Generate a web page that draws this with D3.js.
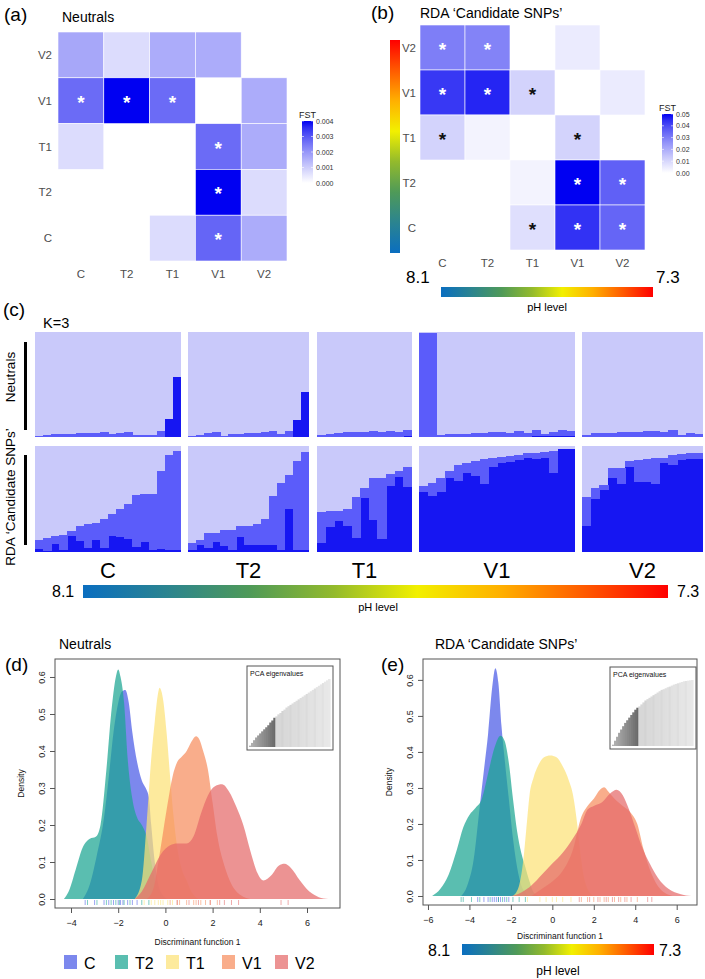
<!DOCTYPE html>
<html><head><meta charset="utf-8">
<script src="https://cdn.jsdelivr.net/npm/d3@7"></script>
<style>
body{margin:0;background:#fff;}
text{font-family:'Liberation Sans',Arial,Helvetica,sans-serif;}
.narrow{font-family:'Liberation Sans Narrow','Arial Narrow','Liberation Sans',sans-serif;}
</style>
</head><body>
<svg id="fig" width="705" height="979" xmlns="http://www.w3.org/2000/svg"></svg>
<script>
// ---------------- DATA ----------------
const pops = ["C","T2","T1","V1","V2"];
const heatCols = ["C","T2","T1","V1","V2"];
const heatRows = ["V2","V1","T1","T2","C"];
// pairwise FST (rows = heatRows, cols = heatCols)
const fstNeutral = [
  [0.0017, 0.0007, 0.0016, 0.0016, null],
  [0.0027, 0.0040, 0.0027, null,   0.0016],
  [0.0007, null,   null,   0.0027, 0.0016],
  [null,   null,   null,   0.0040, 0.0007],
  [null,   null,   0.0007, 0.0028, 0.0016]
];
const sigNeutral = [
  ["","","","",""],
  ["w","w","w","",""],
  ["","","","w",""],
  ["","","","w",""],
  ["","","","w",""]
];
const fstRDA = [
  [0.030, 0.029, null,  0.005, null],
  [0.043, 0.046, 0.011, null,  0.005],
  [0.011, 0.003, null,  0.011, null],
  [null,  null,  0.003, 0.050, 0.036],
  [null,  null,  0.008, 0.044, 0.035]
];
const sigRDA = [
  ["w","w","","",""],
  ["w","w","b","",""],
  ["b","","","b",""],
  ["","","","w","w"],
  ["","","b","w","w"]
];
const fstNeutralTicks = [0, 0.001, 0.002, 0.003, 0.004];
const fstRDATicks = [0, 0.01, 0.02, 0.03, 0.04, 0.05];

// STRUCTURE K=3 ancestry proportions (q1 = dark cluster, q2 = medium cluster)
const neutQ1 = [
  [0,0,0,0,0,0,0,0,0,0,0,0,0,0,0,0,0.17,0.57],
  [0,0,0,0,0,0,0,0,0,0,0,0,0,0.165,0.43],
  [0,0,0,0,0,0,0,0,0,0,0.008],
  [0,0,0,0,0,0,0,0,0,0,0,0,0,0.005,0.008,0.008,0.008,0.005],
  [0,0,0,0,0,0,0,0,0,0,0,0,0,0]
];
const neutQ2 = [
  [0.005,0.02,0.025,0.03,0.033,0.036,0.04,0.042,0.045,0.03,0.035,0.045,0.02,0.02,0.02,0.055,0,0],
  [0.005,0.02,0.04,0.05,0.01,0.025,0.03,0.035,0.04,0.045,0.055,0.03,0.055,0,0],
  [0.02,0.03,0.035,0.045,0.045,0.045,0.055,0.045,0.06,0.05,0.062],
  [0.995,0.995,0.02,0.025,0.03,0.03,0.035,0.04,0.05,0.05,0.035,0.06,0.04,0.06,0.022,0.037,0.057,0.05],
  [0.02,0.04,0.04,0.042,0.045,0.045,0.05,0.055,0.06,0.05,0.07,0.02,0.035,0.025]
];
const rdaQ1 = [
  [0.03,0.01,0.08,0.02,0.15,0.10,0.04,0.11,0.04,0.15,0.14,0.125,0.05,0.095,0.015,0.03,0.015,0.015],
  [0.015,0.07,0.04,0.09,0.055,0.02,0.14,0.07,0.07,0.065,0.065,0.02,0.41,0.02,0.015],
  [0.085,0.235,0.29,0.245,0.135,0.51,0.30,0.125,0.62,0.71,0.615],
  [0.57,0.53,0.57,0.70,0.67,0.75,0.715,0.645,0.805,0.835,0.85,0.865,0.89,0.88,0.885,0.75,0.97,0.97],
  [0.245,0.5,0.585,0.695,0.64,0.805,0.66,0.66,0.645,0.835,0.82,0.865,0.875,0.875]
];
const rdaQ2 = [
  [0.08,0.12,0.07,0.14,0.045,0.15,0.22,0.16,0.275,0.205,0.27,0.325,0.485,0.45,0.53,0.73,0.90,0.935],
  [0.07,0.045,0.14,0.09,0.155,0.19,0.11,0.18,0.19,0.245,0.46,0.63,0.315,0.84,0.925],
  [0.295,0.15,0.10,0.165,0.385,0.09,0.395,0.575,0.12,0.055,0.185],
  [0.05,0.125,0.13,0.065,0.15,0.09,0.145,0.23,0.08,0.065,0.06,0.05,0.04,0.055,0.06,0.20,0.005,0.005],
  [0.27,0.10,0.045,0.10,0.155,0.055,0.21,0.215,0.24,0.055,0.095,0.06,0.055,0.06]
];

// pH colour ramp (8.1 -> 7.3)
const phLabels = ["8.1","7.3"];
const phColors = ["#0a6ec0","#2b8490","#4f9a58","#93ba2c","#f2f000","#ffb000","#ff5a00","#ff0000"];

// Density curves, DAPC discriminant function 1: [x, density]
const dNeutC  = [[-3.5,0],[-3.2,0.04],[-2.9,0.12],[-2.6,0.22],[-2.4,0.33],[-2.2,0.45],[-2.0,0.53],[-1.85,0.56],[-1.7,0.565],[-1.55,0.53],[-1.4,0.45],[-1.2,0.37],[-1.0,0.32],[-0.8,0.295],[-0.7,0.275],[-0.6,0.2],[-0.45,0.1],[-0.3,0.04],[-0.1,0.01],[0.1,0]];
const dNeutT2 = [[-4.3,0],[-4.1,0.02],[-3.8,0.08],[-3.5,0.14],[-3.2,0.163],[-2.95,0.168],[-2.75,0.2],[-2.5,0.35],[-2.3,0.5],[-2.1,0.6],[-2.0,0.62],[-1.9,0.6],[-1.75,0.53],[-1.6,0.38],[-1.4,0.27],[-1.2,0.22],[-1.0,0.2],[-0.8,0.17],[-0.6,0.1],[-0.4,0.04],[-0.2,0.01],[0,0]];
const dNeutT1 = [[-1.3,0],[-1.0,0.05],[-0.8,0.2],[-0.6,0.38],[-0.45,0.48],[-0.3,0.56],[-0.25,0.571],[-0.1,0.54],[0.05,0.45],[0.2,0.33],[0.35,0.22],[0.5,0.14],[0.7,0.08],[0.9,0.05],[1.1,0.02],[1.4,0]];
const dNeutV1 = [[-0.8,0],[-0.5,0.03],[-0.3,0.1],[-0.1,0.18],[0.1,0.26],[0.3,0.33],[0.5,0.37],[0.7,0.385],[0.9,0.4],[1.1,0.425],[1.3,0.44],[1.45,0.43],[1.6,0.4],[1.8,0.35],[2.0,0.26],[2.2,0.17],[2.5,0.09],[2.8,0.04],[3.2,0.01],[3.6,0]];
const dNeutV2 = [[-1.3,0],[-1.0,0.02],[-0.6,0.07],[-0.2,0.12],[0.2,0.145],[0.5,0.15],[0.9,0.15],[1.2,0.17],[1.5,0.23],[1.8,0.28],[2.1,0.305],[2.4,0.31],[2.7,0.29],[3.0,0.25],[3.3,0.2],[3.6,0.13],[3.9,0.07],[4.15,0.05],[4.5,0.065],[4.8,0.09],[5.05,0.095],[5.3,0.085],[5.7,0.05],[6.1,0.02],[6.5,0.005],[6.9,0]];
const dRdaC  = [[-4.4,0],[-4.1,0.03],[-3.8,0.1],[-3.5,0.25],[-3.3,0.35],[-3.1,0.45],[-2.9,0.58],[-2.75,0.632],[-2.6,0.59],[-2.45,0.47],[-2.3,0.38],[-2.1,0.27],[-1.9,0.16],[-1.7,0.08],[-1.5,0.03],[-1.3,0.01],[-1.1,0]];
const dRdaT2 = [[-5.8,0],[-5.4,0.02],[-5.0,0.06],[-4.6,0.13],[-4.3,0.19],[-4.0,0.225],[-3.7,0.245],[-3.4,0.27],[-3.1,0.34],[-2.8,0.41],[-2.5,0.445],[-2.3,0.43],[-2.1,0.37],[-1.9,0.27],[-1.7,0.18],[-1.5,0.12],[-1.3,0.08],[-1.1,0.04],[-0.9,0.01],[-0.6,0]];
const dRdaT1 = [[-1.9,0],[-1.6,0.03],[-1.4,0.1],[-1.25,0.19],[-1.1,0.28],[-0.9,0.33],[-0.7,0.36],[-0.4,0.385],[-0.1,0.39],[0.2,0.385],[0.5,0.36],[0.8,0.32],[1.0,0.28],[1.2,0.2],[1.35,0.12],[1.5,0.06],[1.7,0.02],[2.0,0]];
const dRdaV1 = [[-1.0,0],[-0.5,0.02],[0,0.04],[0.5,0.07],[1.0,0.13],[1.4,0.22],[1.7,0.25],[2.0,0.27],[2.3,0.295],[2.5,0.302],[2.7,0.29],[3.0,0.27],[3.4,0.25],[3.8,0.23],[4.1,0.2],[4.4,0.13],[4.8,0.06],[5.2,0.02],[5.8,0]];
const dRdaV2 = [[-2.0,0],[-1.5,0.01],[-1.0,0.03],[-0.5,0.06],[0,0.09],[0.5,0.12],[1.0,0.16],[1.4,0.2],[1.7,0.24],[2.0,0.25],[2.4,0.26],[2.8,0.285],[3.1,0.295],[3.4,0.28],[3.7,0.24],[4.0,0.19],[4.3,0.14],[4.7,0.09],[5.1,0.05],[5.6,0.02],[6.2,0.005],[6.7,0]];
// rug (individual scores)
const rugNeut = [
  [-3.4,-3.0,-2.6,-2.4,-2.2,-2.0,-1.9,-1.8,-1.6,-1.4,-1.2],
  [-3.3,-2.9,-2.5,-2.3,-2.1,-1.95,-1.75,-1.5,-1.0,-0.7],
  [-0.9,-0.6,-0.45,-0.3,-0.2,-0.1,0.1,0.3],
  [0.2,0.5,0.6,0.9,1.2,1.3,1.5,1.7,1.9,2.2],
  [0.5,1.0,1.4,1.9,2.3,2.5,2.8,3.1,4.9,5.2]
];
const rugRda = [
  [-3.6,-3.3,-3.1,-2.9,-2.8,-2.7,-2.6,-2.5,-2.3,-2.1],
  [-4.4,-4.3,-3.9,-3.5,-3.0,-2.6,-2.4,-2.2,-1.9,-1.6,-1.3],
  [-1.2,-0.6,-0.3,0,0.2,0.5,0.9],
  [1.4,1.7,2.0,2.3,2.5,2.7,3.0,3.3,3.6,4.1],
  [1.3,1.8,2.2,2.6,2.9,3.2,3.5,3.8,4.6,4.8]
];
const popColors = ["#4a5ae6","#1aa592","#fce277","#f78e5e","#e46a6a"];
const densTicksY = [0,0.1,0.2,0.3,0.4,0.5,0.6];
const densTicksXNeut = [-4,-2,0,2,4,6];
const densTicksXRda = [-6,-4,-2,0,2,4,6];
// PCA eigenvalue insets (relative heights; first block = retained PCs)
const eigNeutRetained = [0.02,0.06,0.10,0.14,0.17,0.20,0.23,0.26,0.29,0.32,0.36,0.39,0.43];
const eigNeutOther = [0.45,0.48,0.50,0.53,0.55,0.58,0.60,0.62,0.64,0.66,0.68,0.70,0.72,0.74,0.76,0.78,0.80,0.82,0.84,0.86,0.88,0.90,0.92,0.94,0.96,0.98,1.00];
const eigRdaRetained = [0.02,0.08,0.14,0.20,0.25,0.30,0.35,0.39,0.43,0.47,0.51,0.55,0.58];
const eigRdaOther = [0.60,0.63,0.66,0.69,0.71,0.73,0.75,0.77,0.79,0.81,0.83,0.85,0.86,0.875,0.89,0.90,0.915,0.93,0.94,0.95,0.96,0.97,0.98,0.985,0.99,0.995,1.00];

// ---------------- DRAWING ----------------
const svg = d3.select("#fig");
const defs = svg.append("defs");

function phGradient(id, vertical){
  const g = defs.append("linearGradient").attr("id", id);
  if (vertical) g.attr("x1","0").attr("y1","1").attr("x2","0").attr("y2","0");
  else g.attr("x1","0").attr("y1","0").attr("x2","1").attr("y2","0");
  const s = d3.scaleLinear().domain([0, phColors.length-1]).range([0,1]);
  phColors.forEach((c,i)=> g.append("stop").attr("offset", s(i)).attr("stop-color", c));
}
phGradient("phH", false);
phGradient("phV", true);

function label(x, y, txt, size, opts={}){
  const t = svg.append("text").attr("x",x).attr("y",y).text(txt)
    .attr("font-size", size).attr("fill", opts.fill || "#000");
  if (opts.anchor) t.attr("text-anchor", opts.anchor);
  if (opts.weight) t.attr("font-weight", opts.weight);
  if (opts.cls) t.attr("class", opts.cls);
  return t;
}

function heatmap(o){
  const g = svg.append("g");
  const x = d3.scaleBand().domain(heatCols).range([o.x0, o.x1]);
  const y = d3.scaleBand().domain(heatRows).range([o.y0, o.y1]);
  const col = d3.scaleLinear().domain([0, o.max]).range(["#ffffff","#0000f2"]).interpolate(d3.interpolateRgb.gamma(1.3));
  const cells = [];
  heatRows.forEach((r,i)=>heatCols.forEach((c,j)=>{
    const v = o.vals[i][j];
    if (v !== null) cells.push({r, c, v, s: o.sig[i][j]});
  }));
  g.selectAll("rect.cell").data(cells).join("rect").attr("class","cell")
    .attr("x", d=>x(d.c)).attr("y", d=>y(d.r))
    .attr("width", x.bandwidth()).attr("height", y.bandwidth())
    .attr("fill", d=>col(d.v)).attr("stroke","#ffffff").attr("stroke-width",0.6);
  g.selectAll("text.star").data(cells.filter(d=>d.s)).join("text").attr("class","star")
    .attr("x", d=>x(d.c)+x.bandwidth()/2).attr("y", d=>y(d.r)+y.bandwidth()/2+8)
    .attr("text-anchor","middle").attr("font-size",19).attr("font-weight","bold")
    .attr("fill", d=> d.s==="w" ? "#ffffff" : "#111111").text("*");
  g.selectAll("text.rl").data(heatRows).join("text").attr("class","rl")
    .attr("x", o.x0 - (o.rowPad||6)).attr("y", d=>y(d)+y.bandwidth()/2+4)
    .attr("text-anchor","end").attr("font-size",11.5).attr("fill","#4d4d4d").text(d=>d);
  g.selectAll("text.cl").data(heatCols).join("text").attr("class","cl")
    .attr("x", d=>x(d)+x.bandwidth()/2).attr("y", o.y1+17)
    .attr("text-anchor","middle").attr("font-size",11.5).attr("fill","#4d4d4d").text(d=>d);
  // legend
  const gid = o.id + "grad";
  const gr = defs.append("linearGradient").attr("id", gid).attr("x1","0").attr("y1","1").attr("x2","0").attr("y2","0");
  d3.range(0, 1.0001, 0.1).forEach(t=> gr.append("stop").attr("offset", t).attr("stop-color", col(t*o.max)));
  const ly = d3.scaleLinear().domain([0, o.max]).range([o.lb1, o.lb0]);
  g.append("rect").attr("x", o.lx).attr("y", o.lb0).attr("width", 11).attr("height", o.lb1-o.lb0).attr("fill", `url(#${gid})`);
  g.selectAll("line.lt").data(o.ticks).join("line").attr("class","lt")
    .attr("x1", o.lx).attr("x2", o.lx+2).attr("y1", d=>ly(d)).attr("y2", d=>ly(d)).attr("stroke","#fff").attr("stroke-width",0.6);
  g.selectAll("line.lt2").data(o.ticks).join("line").attr("class","lt2")
    .attr("x1", o.lx+9).attr("x2", o.lx+11).attr("y1", d=>ly(d)).attr("y2", d=>ly(d)).attr("stroke","#fff").attr("stroke-width",0.6);
  g.selectAll("text.ll").data(o.ticks).join("text").attr("class","ll")
    .attr("x", o.lx+14).attr("y", d=>ly(d)+2.5).attr("font-size",7).attr("fill","#333")
    .text(d=> d3.format(o.fmt)(d));
  g.append("text").attr("x", o.lx-3).attr("y", o.lb0-3).attr("font-size",9).attr("fill","#222").text("FST");
}

// (a)
label(4, 21, "(a)", 19);
label(62, 22, "Neutrals", 14);
heatmap({id:"a", x0:58, x1:287, y0:32, y1:261, vals:fstNeutral, sig:sigNeutral, max:0.004,
  ticks:fstNeutralTicks, fmt:".3f", lx:302, lb0:121, lb1:183});
// (b)
label(371, 19, "(b)", 19);
label(420, 18, "RDA \u2018Candidate SNPs\u2019", 14);
heatmap({id:"b", x0:420, x1:645, y0:25, y1:250, vals:fstRDA, sig:sigRDA, max:0.05,
  ticks:fstRDATicks, fmt:".2f", lx:662, lb0:114, lb1:173, rowPad:4});
svg.append("rect").attr("x",390).attr("y",40).attr("width",10).attr("height",213).attr("fill","url(#phV)");
label(406, 283, phLabels[0], 17);
label(656, 283, phLabels[1], 17);
svg.append("rect").attr("x",441).attr("y",287).attr("width",212).attr("height",10).attr("fill","url(#phH)");
label(547, 311, "pH level", 11, {anchor:"middle"});

// (c) STRUCTURE
label(3, 316, "(c)", 19);
label(43, 328, "K=3", 14.5);
const structX = [[35,181],[188,309],[317,412],[419,575],[582,703]];
const rowsY = [[332,437],[446,552]];
const kCols = ["#1616f2","#5b5cfa","#c9c9fa"];
function structRow(q1s, q2s, yr){
  pops.forEach((p,pi)=>{
    const q1 = q1s[pi], q2 = q2s[pi];
    const rows = q1.map((v,i)=>({i, k1:v, k2:q2[i], k3:Math.max(0, 1-v-q2[i])}));
    const x = d3.scaleBand().domain(rows.map(d=>d.i)).range(structX[pi]);
    const y = d3.scaleLinear().domain([0,1]).range([yr[1], yr[0]]);
    const series = d3.stack().keys(["k1","k2","k3"])(rows);
    const g = svg.append("g").attr("shape-rendering","crispEdges");
    g.append("rect").attr("x",structX[pi][0]).attr("y",yr[0])
      .attr("width",structX[pi][1]-structX[pi][0]).attr("height",yr[1]-yr[0]).attr("fill",kCols[2]);
    series.slice(0,2).forEach((s,si)=>{
      g.selectAll(null).data(s).join("rect")
        .attr("x", d=>x(d.data.i)).attr("width", d=> d.data.i===rows.length-1 ? x.bandwidth() : x.bandwidth()+0.6)
        .attr("y", d=>y(d[1])).attr("height", d=>Math.max(0, y(d[0])-y(d[1])))
        .attr("fill", kCols[si]);
    });
  });
}
structRow(neutQ1, neutQ2, rowsY[0]);
structRow(rdaQ1, rdaQ2, rowsY[1]);
svg.append("rect").attr("x",24).attr("y",342).attr("width",3).attr("height",88).attr("fill","#000");
svg.append("rect").attr("x",24).attr("y",455).attr("width",3).attr("height",90).attr("fill","#000");
svg.append("text").attr("transform","translate(15,377) rotate(-90)").attr("text-anchor","middle")
  .attr("font-size",13.5).text("Neutrals");
svg.append("text").attr("transform","translate(15,497) rotate(-90)").attr("text-anchor","middle")
  .attr("font-size",13.5).text("RDA \u2018Candidate SNPs\u2019");
pops.forEach((p,pi)=>{
  label((structX[pi][0]+structX[pi][1])/2, 578, p, 22, {anchor:"middle", cls:"narrow"});
});
label(52, 597, phLabels[0], 16, {cls:"narrow"});
svg.append("rect").attr("x",83).attr("y",585).attr("width",585).attr("height",13).attr("fill","url(#phH)");
label(677, 597, phLabels[1], 16, {cls:"narrow"});
label(378, 611, "pH level", 11, {anchor:"middle"});

// (d), (e) density
function densityPanel(o){
  const g = svg.append("g");
  const x = d3.scaleLinear().domain(o.xd).range([o.L, o.R]);
  const y = d3.scaleLinear().domain(o.yd).range([o.B, o.T]);
  const cid = o.id + "clip";
  defs.append("clipPath").attr("id", cid).append("rect")
    .attr("x", o.L).attr("y", o.T).attr("width", o.R-o.L).attr("height", o.B-o.T);
  const area = d3.area().x(d=>x(d[0])).y0(y(0)).y1(d=>y(d[1])).curve(d3.curveMonotoneX);
  const pg = g.append("g").attr("clip-path", `url(#${cid})`);
  o.curves.forEach((c,i)=>{
    pg.append("path").attr("d", area(c)).attr("fill", popColors[i]).attr("fill-opacity",0.72);
  });
  o.rug.forEach((r,i)=>{
    pg.selectAll(null).data(r).join("line")
      .attr("x1", d=>x(d)).attr("x2", d=>x(d)).attr("y1", y(0)+1).attr("y2", y(0)+6)
      .attr("stroke", popColors[i]).attr("stroke-width",0.7).attr("stroke-opacity",0.8);
  });
  g.append("rect").attr("x",o.L).attr("y",o.T).attr("width",o.R-o.L).attr("height",o.B-o.T)
    .attr("fill","none").attr("stroke","#555").attr("stroke-width",1);
  // axes (R base style)
  const ax = g.append("g").attr("transform",`translate(0,${o.B})`)
    .call(d3.axisBottom(x).tickValues(o.xt).tickSize(5).tickFormat(d3.format("d")));
  ax.select(".domain").remove();
  ax.selectAll("line").attr("stroke","#555");
  ax.selectAll("text").attr("font-size",9).attr("fill","#222").attr("dy","1.1em");
  const ay = g.append("g").attr("transform",`translate(${o.L},0)`)
    .call(d3.axisLeft(y).tickValues(densTicksY).tickSize(5).tickFormat(d3.format(".1f")));
  ay.select(".domain").remove();
  ay.selectAll("line").attr("stroke","#555");
  ay.selectAll("text").attr("font-size",9).attr("fill","#222")
    .attr("transform","rotate(-90)").attr("text-anchor","middle")
    .attr("x",0).attr("dy","0").attr("y",-10);
  g.append("text").attr("x",(o.L+o.R)/2).attr("y",o.B+o.xlabOff).attr("text-anchor","middle")
    .attr("font-size",8.5).attr("fill","#111").text("Discriminant function 1");
  g.append("text").attr("transform",`translate(${o.L-31},${(o.T+o.B)/2}) rotate(-90)`)
    .attr("text-anchor","middle").attr("font-size",8.5).attr("fill","#111").text("Density");
  // inset
  const I = o.inset;
  g.append("rect").attr("x",I.x).attr("y",I.y).attr("width",I.w).attr("height",I.h)
    .attr("fill","#fff").attr("stroke","#555").attr("stroke-width",1);
  g.append("text").attr("x",I.x+3).attr("y",I.y+10).attr("font-size",7).attr("fill","#111").text("PCA eigenvalues");
  const eig = o.eigA.map((v,i)=>({i, v, kept:true})).concat(o.eigB.map((v,i)=>({i:i+o.eigA.length, v, kept:false})));
  const ex = d3.scaleBand().domain(eig.map(d=>d.i)).range([I.x+2, I.x+I.w-3]);
  const ey = d3.scaleLinear().domain([0,1]).range([I.y+I.h-3, I.y+13]);
  const darkC = d3.scaleLinear().domain([0, o.eigA.length-1]).range(["#b4b4b4","#6a6a6a"]);
  const lightC = d3.scaleLinear().domain([0, o.eigB.length-1]).range(["#d6d6d6","#e8e8e8"]);
  const ea = d3.area().x(d=>ex(d.i)+ex.bandwidth()/2).y0(ey(0)).y1(d=>ey(d.v)).curve(d3.curveMonotoneX);
  // bars as thin slices, smoothed top
  const eg = g.append("g");
  eg.selectAll(null).data(eig).join("rect")
    .attr("x", d=>ex(d.i)).attr("width", ex.bandwidth()+0.6)
    .attr("y", d=>ey(d.v)).attr("height", d=>ey(0)-ey(d.v))
    .attr("fill", d=> d.kept ? darkC(d.i) : d3.color(lightC(d.i-o.eigA.length)).darker(d.i%4===0?0.06:0));
}
label(59, 649, "Neutrals", 14);
label(5, 671, "(d)", 19);
densityPanel({id:"d", L:55, R:340, T:659, B:908, xd:[-4.678,7.398], yd:[-0.0243,0.6486],
  xt:densTicksXNeut, curves:[dNeutC,dNeutT2,dNeutT1,dNeutV1,dNeutV2], rug:rugNeut, xlabOff:37,
  inset:{x:247,y:666,w:86,h:84}, eigA:eigNeutRetained, eigB:eigNeutOther});
label(435, 649, "RDA \u2018Candidate SNPs\u2019", 14);
label(381, 671, "(e)", 19);
densityPanel({id:"e", L:423, R:697, T:659, B:905, xd:[-6.24,6.98], yd:[-0.025,0.658],
  xt:densTicksXRda, curves:[dRdaC,dRdaT2,dRdaT1,dRdaV1,dRdaV2], rug:rugRda, xlabOff:34,
  inset:{x:610,y:667,w:86,h:82}, eigA:eigRdaRetained, eigB:eigRdaOther});

// legend (d)
const legX = [64,115,166,222,275];
pops.forEach((p,i)=>{
  svg.append("rect").attr("x",legX[i]).attr("y",955).attr("width",13).attr("height",14)
    .attr("fill",popColors[i]).attr("fill-opacity",0.72);
  label(legX[i]+20, 969, p, 16);
});
// pH bar (e)
label(428, 956, phLabels[0], 16);
svg.append("rect").attr("x",462).attr("y",944).attr("width",192).attr("height",11).attr("fill","url(#phH)");
label(659, 956, phLabels[1], 16);
label(558, 975, "pH level", 12, {anchor:"middle"});
</script>
</body></html>
